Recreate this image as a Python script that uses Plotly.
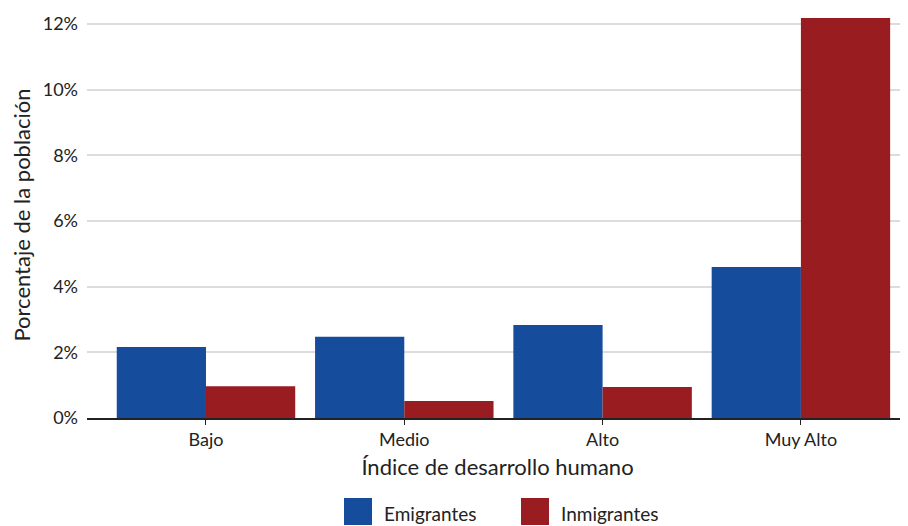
import plotly.graph_objects as go

categorias = ["Bajo", "Medio", "Alto", "Muy Alto"]
emigrantes = [2.16, 2.47, 2.83, 4.6]
inmigrantes = [0.97, 0.52, 0.94, 12.18]
y_ticks = [0, 2, 4, 6, 8, 10, 12]
y_labels = ["0%", "2%", "4%", "6%", "8%", "10%", "12%"]

series = [("Emigrantes", emigrantes, "#154c9c"),
          ("Inmigrantes", inmigrantes, "#991c20")]

font = "Lato, 'Open Sans', sans-serif"

# the page body has an 8px margin, so the figure is shifted by that much
OFF = 8
FW, FH = 908 - OFF, 526 - OFF

# plot area in screen pixels
L, R, T, B = 87, 908, 12, 418
W, H = R - L, B - T


def px_x(p):
    return (p - L) / W


def px_y(p):
    return (B - p) / H


fig = go.Figure()
for name, vals, color in series:
    fig.add_trace(go.Bar(x=categorias, y=vals, name=name,
                         marker_color=color, marker_line_width=0))

# big square legend, drawn by hand
for (name, _, color), x0 in zip(series, [344, 521]):
    fig.add_shape(type="rect", xref="paper", yref="paper",
                  x0=px_x(x0), x1=px_x(x0 + 28), y0=px_y(525), y1=px_y(498),
                  fillcolor=color, line_width=0)
    fig.add_annotation(text=name, xref="paper", yref="paper",
                       x=px_x(x0 + 38), y=px_y(513), xanchor="left", yanchor="middle",
                       showarrow=False, font=dict(size=19, color="#222"))

fig.update_layout(
    width=FW, height=FH,
    margin=dict(l=L - OFF, r=908 - R, t=T - OFF, b=526 - B),
    barmode="group", bargap=0.1, bargroupgap=0,
    plot_bgcolor="white", paper_bgcolor="white",
    font=dict(family=font, size=18, color="#222"),
    showlegend=False,
    xaxis=dict(
        title=dict(text="Índice de desarrollo humano", standoff=10),
        range=[-0.6, 3.54], automargin=False,
        showline=True, linecolor="#222", linewidth=1.5,
        ticks="outside", ticklen=5, tickcolor="#222",
        showgrid=False,
    ),
    yaxis=dict(
        title=dict(text="Porcentaje de la población", standoff=10),
        range=[0, 12.36], automargin=False,
        tickvals=y_ticks, ticktext=y_labels,
        showgrid=True, gridcolor="#dcdcdc", gridwidth=1.5,
        zeroline=False, ticks="", ticklabelstandoff=8,
    ),
)

fig.write_html("out.html")
